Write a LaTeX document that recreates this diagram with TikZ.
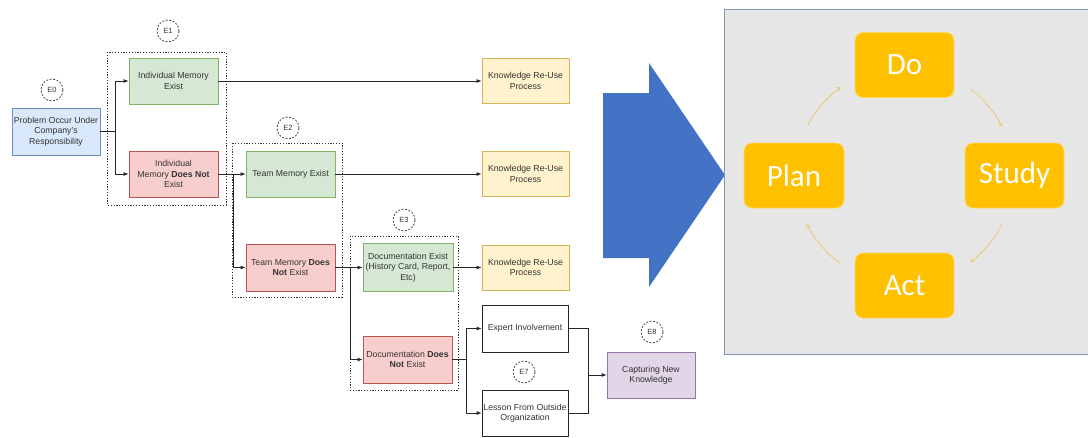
\documentclass[tikz,border=0pt]{standalone}
\usepackage{fontspec}
\setmainfont{Liberation Sans}
\newfontfamily\pdcafont{Carlito}
\usetikzlibrary{arrows.meta,calc}

\definecolor{startfill}{HTML}{DAE8FC}\definecolor{startline}{HTML}{6C8EBF}
\definecolor{okfill}{HTML}{D5E8D4}\definecolor{okline}{HTML}{82B366}
\definecolor{nofill}{HTML}{F8CECC}\definecolor{noline}{HTML}{B85450}
\definecolor{reusefill}{HTML}{FFF2CC}\definecolor{reuseline}{HTML}{D6B656}
\definecolor{newfill}{HTML}{E1D5E7}\definecolor{newline}{HTML}{9673A6}
\definecolor{bigblue}{HTML}{4472C4}
\definecolor{panelfill}{HTML}{E7E6E6}\definecolor{panelline}{HTML}{8497B0}
\definecolor{pdcaorange}{HTML}{FFC000}\definecolor{pdcaedge}{HTML}{FFD966}
\definecolor{cyclecol}{HTML}{E9C766}

\begin{document}
\begin{tikzpicture}[x=1pt,y=-1pt,
  box/.style={draw, rectangle, minimum width=89pt, minimum height=46pt,
    inner sep=1pt, align=center, line width=0.8pt, text=black!80,
    font=\fontsize{8.7}{10.5}\selectfont},
  startbox/.style={box, fill=startfill, draw=startline},
  okbox/.style={box, fill=okfill, draw=okline},
  nobox/.style={box, fill=nofill, draw=noline},
  reusebox/.style={box, fill=reusefill, draw=reuseline, minimum width=87pt, minimum height=45pt},
  plainbox/.style={box, fill=white, draw=black!85, minimum width=86pt, minimum height=47pt},
  newbox/.style={box, fill=newfill, draw=newline, minimum width=88pt},
  group/.style={draw=black!80, line width=0.9pt, dash pattern=on 1.2pt off 1.6pt},
  tag/.style={circle, draw=black!80, dash pattern=on 2pt off 1.5pt, line width=0.7pt,
    minimum size=22pt, inner sep=0pt, text=black!80, font=\fontsize{7.5}{8}\selectfont},
  link/.style={line width=0.8pt, draw=black!85},
  arr/.style={link, -{Latex[length=5pt,width=4pt]}},
  pdcabox/.style={rounded corners=8pt, fill=pdcaorange, draw=pdcaedge, line width=0.8pt,
    minimum width=99pt, minimum height=65pt, text=white,
    font=\pdcafont\fontsize{31}{31}\selectfont},
  cycle/.style={draw=cyclecol, line width=0.7pt, -{Straight Barb[length=3pt,width=4.5pt]}}
]
\clip (0,0) rectangle (1088,437);
\fill[white] (0,0) rectangle (1088,437);

% grouping frames
\draw[group] (107,52) rectangle (226,205);
\draw[group] (232,143) rectangle (342,297);
\draw[group] (350,236) rectangle (458,390);

% step tags
\node[tag] (t0) at (52,90) {E0};
\node[tag] (t1) at (168,31) {E1};
\node[tag] (t2) at (288,128) {E2};
\node[tag] (t3) at (404,220) {E3};
\node[tag] (t7) at (524,372) {E7};
\node[tag] (t8) at (652,332) {E8};

% decision flow boxes
\node[startbox, minimum width=88pt, minimum height=47pt] (problem) at (56,131.5)
  {Problem Occur Under\\Company's\\Responsibility};
\node[okbox] (ime) at (173.5,81) {Individual Memory\\Exist};
\node[nobox] (imne) at (173.5,174) {Individual\\Memory \textbf{Does Not}\\Exist};
\node[okbox] (tme) at (290.5,174) {Team Memory Exist};
\node[nobox, minimum height=47pt] (tmne) at (290.5,267.5) {Team Memory \textbf{Does}\\\textbf{Not} Exist};
\node[okbox, minimum width=90pt, minimum height=48pt] (doce) at (408,267.5)
  {Documentation Exist\\(History Card, Report,\\Etc)};
\node[nobox, minimum height=47pt] (docne) at (407.5,359.5) {Documentation \textbf{Does}\\\textbf{Not} Exist};
\node[reusebox] (krp1) at (525.5,81) {Knowledge Re-Use\\Process};
\node[reusebox] (krp2) at (525.5,174) {Knowledge Re-Use\\Process};
\node[reusebox] (krp3) at (525.5,267.5) {Knowledge Re-Use\\Process};
\node[plainbox] (expert) at (525,328.5) {Expert Involvement};
\node[plainbox, minimum height=46pt] (lesson) at (525,413) {Lesson From Outside\\Organization};
\node[newbox] (capture) at (651,375) {Capturing New\\Knowledge};

% branch points
\coordinate (j1) at (115,131.5);
\coordinate (j2) at (233,174);
\coordinate (j3) at (350,267.5);
\coordinate (j4) at (466,359.5);
\coordinate (j5) at (588,375);

% connectors
\draw[link] (problem.east) -- (j1);
\draw[arr] (j1) |- (ime.west);
\draw[arr] (j1) |- (imne.west);
\draw[arr] (ime.east) -- (krp1.west);
\draw[arr] (imne.east) -- (tme.west);
\draw[arr] (j2) |- (tmne.west);
\draw[arr] (tme.east) -- (krp2.west);
\draw[arr] (tmne.east) -- (doce.west);
\draw[arr] (j3) |- (docne.west);
\draw[arr] (doce.east) -- (krp3.west);
\draw[link] (docne.east) -- (j4);
\draw[arr] (j4) |- (expert.west);
\draw[arr] (j4) |- (lesson.west);
\draw[link] (expert.east) -| (j5);
\draw[link] (lesson.east) -| (j5);
\draw[arr] (j5) -- (capture.west);

% big block arrow
\fill[bigblue] (603,93) -- (649,93) -- (649,63) -- (725,175) -- (649,287)
  -- (649,258) -- (603,258) -- cycle;

% PDCA panel
\draw[fill=panelfill, draw=panelline, line width=1pt] (724,9) rectangle (1100,354);
\node[pdcabox] (do) at (904.5,65) {Do};
\node[pdcabox, minimum width=100pt] (plan) at (794,175.5) {Plan};
\node[pdcabox] (study) at (1014.5,175.5) {Study};
\node[pdcabox] (act) at (904.5,285.5) {Act};

% cycle arrows on a circle around the panel centre
\coordinate (hub) at (904.5,175.5);
\draw[cycle] ($(hub)+(-152.6:109)$) arc[start angle=-152.6, end angle=-126, radius=109];
\draw[cycle] ($(hub)+(-52.7:109)$) arc[start angle=-52.7, end angle=-26.7, radius=109];
\draw[cycle] ($(hub)+(26.7:109)$) arc[start angle=26.7, end angle=52.7, radius=109];
\draw[cycle] ($(hub)+(126:109)$) arc[start angle=126, end angle=153.4, radius=109];
\end{tikzpicture}
\end{document}
